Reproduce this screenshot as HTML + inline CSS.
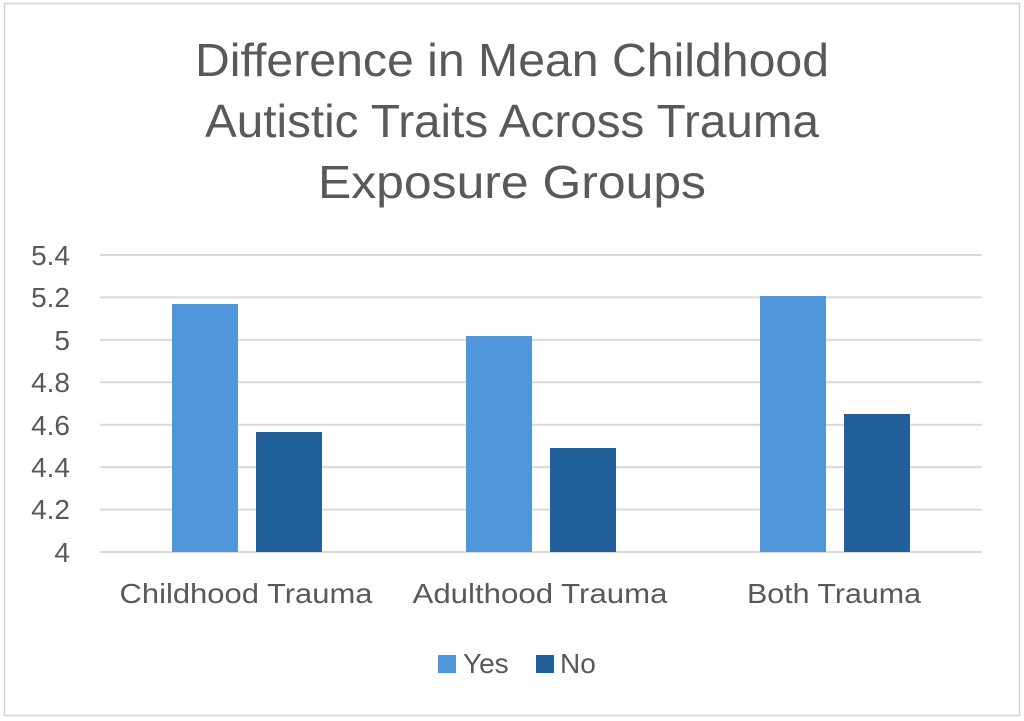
<!DOCTYPE html>
<html><head><style>
body{margin:0;background:#fff;}
svg{display:block;font-family:"Liberation Sans",Arial,sans-serif;}
</style></head><body>
<svg width="1024" height="721" viewBox="0 0 1024 721">
<rect x="4.5" y="3.5" width="1015" height="712" fill="#fff" stroke="#d4d4d4" stroke-width="1.5"/>
<g font-size="46" fill="#595959" text-anchor="middle">
<text x="512" y="76" textLength="634" lengthAdjust="spacingAndGlyphs">Difference in Mean Childhood</text>
<text x="512" y="137" textLength="614" lengthAdjust="spacingAndGlyphs">Autistic Traits Across Trauma</text>
<text x="512" y="198" textLength="388" lengthAdjust="spacingAndGlyphs">Exposure Groups</text>
</g>
<g stroke="#d9d9d9" stroke-width="2">
<line x1="100" x2="982" y1="255" y2="255"/>
<line x1="100" x2="982" y1="297.4" y2="297.4"/>
<line x1="100" x2="982" y1="339.9" y2="339.9"/>
<line x1="100" x2="982" y1="382.3" y2="382.3"/>
<line x1="100" x2="982" y1="424.7" y2="424.7"/>
<line x1="100" x2="982" y1="467.1" y2="467.1"/>
<line x1="100" x2="982" y1="509.6" y2="509.6"/>
<line x1="100" x2="982" y1="552" y2="552"/>
</g>
<g font-size="28" fill="#595959" text-anchor="end">
<text x="70" y="265">5.4</text>
<text x="70" y="307">5.2</text>
<text x="70" y="350">5</text>
<text x="70" y="392">4.8</text>
<text x="70" y="435">4.6</text>
<text x="70" y="477">4.4</text>
<text x="70" y="519">4.2</text>
<text x="70" y="562">4</text>
</g>
<g fill="#4f96da">
<rect x="172" y="304" width="66" height="248"/>
<rect x="466" y="336" width="66" height="216"/>
<rect x="760" y="296" width="66" height="256"/>
</g>
<g fill="#22609c">
<rect x="256" y="432" width="66" height="120"/>
<rect x="550" y="448" width="66" height="104"/>
<rect x="844" y="414" width="66" height="138"/>
</g>
<g font-size="28" fill="#595959" text-anchor="middle">
<text x="246" y="603" textLength="253" lengthAdjust="spacingAndGlyphs">Childhood Trauma</text>
<text x="540" y="603" textLength="255" lengthAdjust="spacingAndGlyphs">Adulthood Trauma</text>
<text x="834" y="603" textLength="174" lengthAdjust="spacingAndGlyphs">Both Trauma</text>
</g>
<rect x="438" y="655" width="18" height="18" fill="#4f96da"/>
<text x="463" y="673" font-size="28" fill="#595959">Yes</text>
<rect x="536" y="655" width="18" height="18" fill="#22609c"/>
<text x="560" y="673" font-size="28" fill="#595959">No</text>
</svg>
</body></html>
